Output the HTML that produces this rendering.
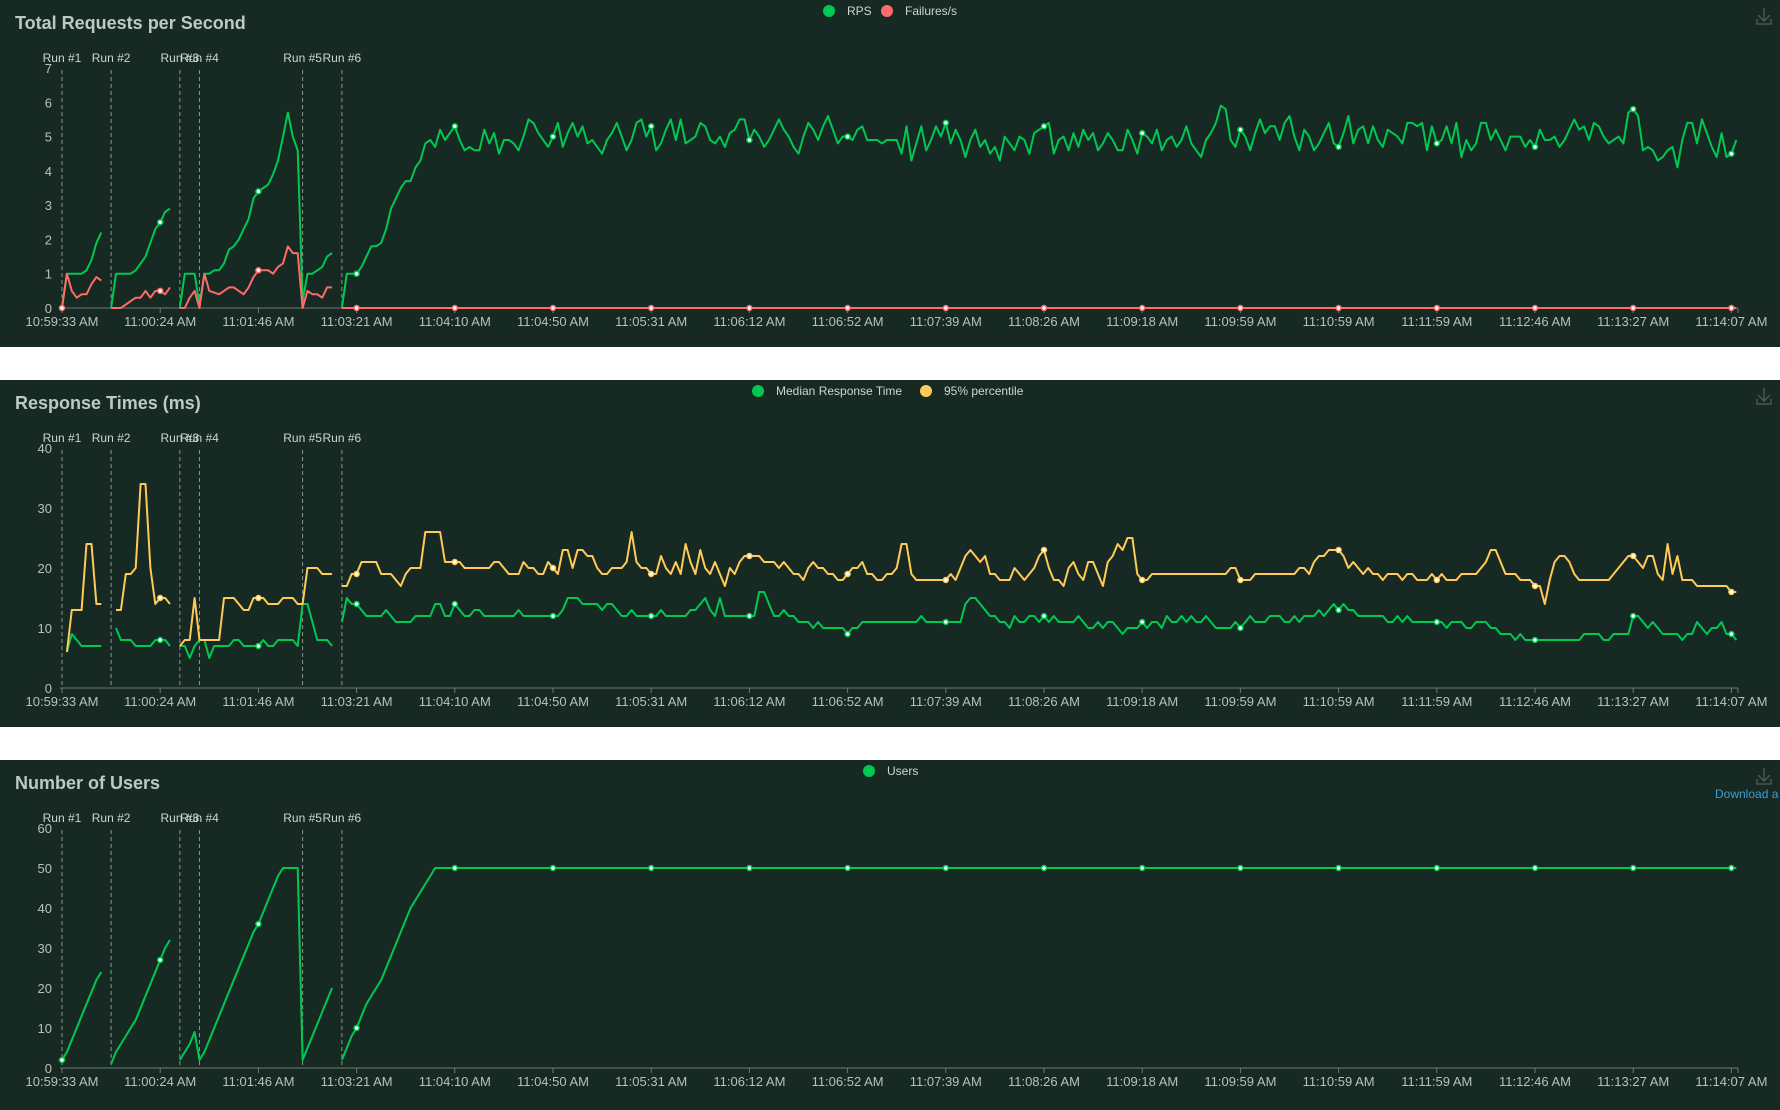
<!DOCTYPE html>
<html><head><meta charset="utf-8">
<style>
html,body{margin:0;padding:0;background:#fff;width:1780px;height:1110px;overflow:hidden}
.panel{position:absolute;left:0;width:1780px;background:#162922}
svg{display:block}
text{font-family:"Liberation Sans",sans-serif}
</style></head><body>
<div class="panel" style="top:0;height:347px"><svg id="c1" width="1780" height="347"></svg></div>
<div class="panel" style="top:380px;height:347px"><svg id="c2" width="1780" height="347"></svg></div>
<div class="panel" style="top:760px;height:350px"><svg id="c3" width="1780" height="350"></svg></div>
<script>
const tickLabels=["10:59:33 AM","11:00:24 AM","11:01:46 AM","11:03:21 AM","11:04:10 AM","11:04:50 AM","11:05:31 AM","11:06:12 AM","11:06:52 AM","11:07:39 AM","11:08:26 AM","11:09:18 AM","11:09:59 AM","11:10:59 AM","11:11:59 AM","11:12:46 AM","11:13:27 AM","11:14:07 AM"];
const runLabels=["Run #1","Run #2","Run #3","Run #4","Run #5","Run #6"];
const runStarts=[0,10,24,28,49,57];
const rps=[0,1,1,1,1,1.1,1.4,1.9,2.2,null,
0,1,1,1,1,1.1,1.3,1.5,1.9,2.3,2.5,2.8,2.9,null,
0,1,1,1,0.1,1,1,1.1,1.1,1.3,1.7,1.8,2.0,2.3,2.6,3.2,3.4,3.5,3.6,3.9,4.3,5.0,5.7,5.0,4.6,0.2,1,1,1.1,1.2,1.5,1.6,null,
0,1,1,1,1.2,1.5,1.8,1.8,1.9,2.3,2.9,3.2,3.5,3.7,3.7,4.1,4.3,4.8,4.9,4.7,5.2,
4.9,5.1,
5.3,4.9,4.6,4.7,4.6,4.6,5.2,4.8,5.1,4.5,4.9,4.9,4.8,4.6,5.0,5.5,5.4,5.1,4.9,4.7,
5.0,5.4,4.7,5.1,5.4,5.0,5.3,4.8,4.9,4.7,4.5,4.9,5.1,5.4,5.0,4.6,4.9,5.4,5.5,5.0,
5.3,4.6,4.8,5.2,5.5,4.9,5.5,4.8,4.9,5.0,5.4,5.3,4.9,4.8,5.0,4.7,5.1,5.2,5.5,5.5,
4.9,5.2,5.0,4.7,4.9,5.2,5.5,5.2,5.0,4.7,4.5,5.0,5.4,5.2,4.9,5.3,5.6,5.2,4.8,5.0,
5.0,4.9,5.2,5.3,4.9,4.9,4.9,4.8,4.9,4.9,4.9,4.5,5.3,4.3,4.8,5.3,4.6,4.9,5.3,5.0,
5.4,4.8,5.2,4.9,4.4,4.9,5.2,4.7,4.9,4.5,4.7,4.3,5.0,4.8,4.6,5.0,4.9,4.5,5.1,5.2,
5.3,5.4,4.5,4.9,5.0,4.6,5.1,4.7,5.2,4.9,5.1,4.6,4.8,5.1,4.9,4.6,4.6,5.2,4.9,4.5,
5.1,5.0,4.8,5.2,4.6,4.9,5.0,4.7,4.9,5.3,4.8,4.6,4.4,4.9,5.1,5.4,5.9,5.8,4.9,4.7,
5.2,5.0,4.6,5.1,5.5,5.1,5.3,5.3,4.9,5.4,5.6,5.0,4.6,5.2,5.0,4.6,4.8,5.1,5.4,4.8,
4.7,5.1,5.6,4.8,5.2,5.3,4.8,5.3,4.9,4.7,5.2,5.1,5.0,
4.8,5.4,5.4,5.3,5.4,4.6,5.3,4.8,4.9,5.3,4.8,5.4,4.4,4.9,4.6,4.8,5.4,5.4,4.9,5.2,
4.9,4.6,5.0,5.0,5.0,4.7,4.9,4.7,5.2,4.9,4.9,5.0,4.7,4.9,5.2,5.5,5.2,5.3,4.9,5.4,
5.3,5.0,4.8,4.9,5.0,4.8,5.7,5.8,5.6,4.6,4.7,4.6,4.3,4.4,4.6,4.7,4.1,4.9,5.4,5.4,
4.8,5.5,5.1,4.7,4.4,5.1,4.4,4.5,4.9];
const failures=[0,1,0.5,0.3,0.4,0.4,0.7,0.9,0.8,null,
0,0,0,0.1,0.2,0.3,0.3,0.5,0.3,0.5,0.5,0.4,0.6,null,
0,0,0.3,0.5,0,1.0,0.5,0.45,0.4,0.5,0.6,0.6,0.5,0.4,0.6,0.9,1.1,1.1,1.1,1.0,1.2,1.3,1.8,1.6,1.6,0,0.5,0.4,0.4,0.3,0.6,0.6,null,
0,0,0,0,0,0,0,0,0,0,0,0,0,0,0,0,0,0,0,0,0,0,0,
0,0,0,0,0,0,0,0,0,0,0,0,0,0,0,0,0,0,0,0,
0,0,0,0,0,0,0,0,0,0,0,0,0,0,0,0,0,0,0,0,
0,0,0,0,0,0,0,0,0,0,0,0,0,0,0,0,0,0,0,0,
0,0,0,0,0,0,0,0,0,0,0,0,0,0,0,0,0,0,0,0,
0,0,0,0,0,0,0,0,0,0,0,0,0,0,0,0,0,0,0,0,
0,0,0,0,0,0,0,0,0,0,0,0,0,0,0,0,0,0,0,0,
0,0,0,0,0,0,0,0,0,0,0,0,0,0,0,0,0,0,0,0,
0,0,0,0,0,0,0,0,0,0,0,0,0,0,0,0,0,0,0,0,
0,0,0,0,0,0,0,0,0,0,0,0,0,0,0,0,0,0,0,0,
0,0,0,0,0,0,0,0,0,0,0,0,0,0,0,0,0,0,0,0,
0,0,0,0,0,0,0,0,0,0,0,0,0,0,0,0,0,0,0,0,
0,0,0,0,0,0,0,0,0,0,0,0,0,0,0,0,0,0,0,0,
0,0,0,0,0,0,0,0,0,0,0,0,0,0,0,0,0,0,0,0,
0,0];
const median=[null,6,9,8,7,7,7,7,7,null,
null,10,8,8,8,7,7,7,7,8,8,8,7,null,
7,7,5,7,8,8,5,7,7,7,7,8,8,7,7,7,7,8,7,7,8,8,8,8,7,14,14,11,8,8,8,7,null,
11,15,14,14,13,12,12,12,12,13,12,11,11,11,11,12,12,12,12,14,14,
12,12,
14,13,12,12,13,13,12,12,12,12,12,12,12,13,12,12,12,12,12,12,
12,12,13,15,15,15,14,14,14,14,13,14,14,13,12,12,13,12,12,12,
12,12,13,12,12,12,12,12,13,13,14,15,13,12,15,12,12,12,12,12,
12,12,16,16,14,12,12,13,12,12,11,11,11,10,11,10,10,10,10,10,
9,10,10,11,11,11,11,11,11,11,11,11,11,11,11,12,11,11,11,11,
11,11,11,11,14,15,15,14,13,12,12,11,11,10,12,11,11,12,12,11,
12,11,12,11,11,11,11,12,11,10,10,11,10,11,11,10,9,10,10,10,
11,10,11,11,10,12,11,11,12,11,12,11,11,12,11,10,10,10,10,11,
10,11,12,11,11,11,12,12,12,11,11,12,11,12,12,12,13,12,13,14,
13,14,13,13,12,12,12,12,12,12,11,11,12,11,12,11,11,11,11,11,
11,11,10,11,11,11,10,10,11,11,11,10,10,9,9,9,8,9,8,8,
8,8,8,8,8,8,8,8,8,8,9,9,9,9,8,8,9,9,9,9,
12,12,11,10,11,10,9,9,9,9,8,9,9,11,10,9,10,10,11,9,
9,8];
const p95=[null,6,13,13,13,24,24,14,14,null,
null,13,13,19,19,20,34,34,20,14,15,15,14,null,
7,8,8,15,8,8,8,8,8,15,15,15,14,13,13,15,15,15,14,14,14,15,15,15,14,14,20,20,20,19,19,19,null,
17,17,19,19,21,21,21,21,19,19,19,18,17,19,20,20,20,26,26,26,26,
21,21,
21,21,20,20,20,20,20,20,21,21,20,19,19,19,21,20,20,19,19,21,
20,19,23,23,20,23,23,22,22,20,19,19,20,20,20,21,26,21,20,20,
19,19,22,20,19,21,19,24,21,19,23,20,19,21,19,17,20,19,21,22,
22,22,22,21,21,21,20,21,20,19,19,18,20,21,20,20,19,19,18,18,
19,20,20,21,19,19,18,18,19,19,20,24,24,19,18,18,18,18,18,18,
18,19,18,20,22,23,22,21,22,19,19,18,18,18,20,19,18,19,20,22,
23,20,18,18,17,20,21,19,18,21,21,19,17,21,22,24,23,25,25,19,
18,18,19,19,19,19,19,19,19,19,19,19,19,19,19,19,19,19,20,20,
18,18,18,19,19,19,19,19,19,19,19,19,20,20,19,21,22,22,23,23,
23,22,20,21,20,19,20,19,19,18,19,19,19,18,19,19,18,18,18,19,
18,19,18,18,18,19,19,19,19,20,21,23,23,21,19,19,19,18,18,18,
17,17,14,18,21,22,22,21,19,18,18,18,18,18,18,18,19,20,21,22,
22,21,20,22,22,19,18,24,19,22,18,18,18,17,17,17,17,17,17,17,
16,16];
const users=[2,4,7,10,13,16,19,22,24,null,
1,4,6,8,10,12,15,18,21,24,27,30,32,null,
2,4,6,9,2,4,7,10,13,16,19,22,25,28,31,34,36,39,42,45,48,50,50,50,50,2,5,8,11,14,17,20,null,
2,5,8,10,13,16,18,20,22,25,28,31,34,37,40,42,44,46,48,
50,50,50,50,50,50,
50,50,50,50,50,50,50,50,50,50,50,50,50,50,50,50,50,50,50,50,
50,50,50,50,50,50,50,50,50,50,50,50,50,50,50,50,50,50,50,50,
50,50,50,50,50,50,50,50,50,50,50,50,50,50,50,50,50,50,50,50,
50,50,50,50,50,50,50,50,50,50,50,50,50,50,50,50,50,50,50,50,
50,50,50,50,50,50,50,50,50,50,50,50,50,50,50,50,50,50,50,50,
50,50,50,50,50,50,50,50,50,50,50,50,50,50,50,50,50,50,50,50,
50,50,50,50,50,50,50,50,50,50,50,50,50,50,50,50,50,50,50,50,
50,50,50,50,50,50,50,50,50,50,50,50,50,50,50,50,50,50,50,50,
50,50,50,50,50,50,50,50,50,50,50,50,50,50,50,50,50,50,50,50,
50,50,50,50,50,50,50,50,50,50,50,50,50,50,50,50,50,50,50,50,
50,50,50,50,50,50,50,50,50,50,50,50,50,50,50,50,50,50,50,50,
50,50,50,50,50,50,50,50,50,50,50,50,50,50,50,50,50,50,50,50,
50,50,50,50,50,50,50,50,50,50,50,50,50,50,50,50,50,50,50,50];
const rpsTicks=[0,1,2,3,4,5,6,7];
const rtTicks=[0,10,20,30,40];
const userTicks=[0,10,20,30,40,50,60];

const NS="http://www.w3.org/2000/svg";
const X0=62, STEP=4.91, AXY=308, TOPY=68;
function xs(i){return X0+i*STEP;}
function mk(svg,tag,attrs){const e=document.createElementNS(NS,tag);for(const k in attrs)e.setAttribute(k,attrs[k]);svg.appendChild(e);return e;}
function drawChart(id,title,yMax,yTicks,series,legend,extra){
  const svg=document.getElementById(id);
  const ys=v=>AXY-(v/yMax)*(AXY-TOPY);
  const t=mk(svg,'text',{x:15,y:29,fill:'#bccac2','font-size':18,'font-weight':'bold'});t.textContent=title;
  
  
  legend.forEach(l=>{
    const c=mk(svg,'circle',{cx:l.x,cy:11,r:6,fill:l.color});
    
    
    const tx=mk(svg,'text',{x:l.x+18,y:15,fill:'#cfd6d2','font-size':12});tx.textContent=l.label;
    
    
  });
  const dl=mk(svg,'path',{d:'M1764 8 V20 M1758 15 L1764 21 L1770 15 M1757 19 V24 H1771 V19',stroke:'#55625b','stroke-width':1.2,fill:'none'});
  
  
  yTicks.forEach(v=>{
    const tx=mk(svg,'text',{x:52,y:ys(v)+5,fill:'#b8c0bb','font-size':13,'text-anchor':'end'});tx.textContent=v;
    
    
  });
  const ax=mk(svg,'line',{x1:60,y1:AXY,x2:1738,y2:AXY,stroke:'#6e7a74','stroke-width':1});
  
  
  mk(svg,'line',{x1:1738,y1:AXY,x2:1738,y2:AXY+5,stroke:'#6e7a74'});
  tickLabels.forEach((lab,k)=>{
    const x=xs(k*20);
    mk(svg,'line',{x1:x,y1:AXY,x2:x,y2:AXY+5,stroke:'#6e7a74'});
    const tx=mk(svg,'text',{x:x,y:AXY+18,fill:'#b8c0bb','font-size':13,'text-anchor':'middle'});tx.textContent=lab;
    
    
  });
  runStarts.forEach((s,k)=>{
    const x=xs(s);
    const ln=mk(svg,'line',{x1:x,y1:TOPY+2,x2:x,y2:AXY,stroke:'#8a948f','stroke-width':1,'stroke-dasharray':'4,3'});
    
    
    const tx=mk(svg,'text',{x:x,y:62,fill:'#cfd6d2','font-size':12,'text-anchor':'middle'});tx.textContent=runLabels[k];
    
    
  });
  series.forEach(s=>{
    let d='',pen=false;
    s.data.forEach((v,i)=>{
      if(v===null||v===undefined){pen=false;return;}
      d+=(pen?'L':'M')+xs(i).toFixed(1)+' '+ys(v).toFixed(1)+' ';pen=true;
    });
    const p=mk(svg,'path',{d:d,stroke:s.color,'stroke-width':2,fill:'none','stroke-linejoin':'round'});
    
    
    s.data.forEach((v,i)=>{
      if(i%20!==0||v===null)return;
      const c=mk(svg,'circle',{cx:xs(i),cy:ys(v),r:2.5,fill:'#ffffff',stroke:s.color,'stroke-width':1.5});
      
      
    });
  });
  if(extra)extra(svg);
}
drawChart('c1','Total Requests per Second',7,rpsTicks,
  [{data:rps,color:'#00c853',name:'rps'},{data:failures,color:'#ff6b6b',name:'failures'}],
  [{x:829,label:'RPS',color:'#00c853'},{x:887,label:'Failures/s',color:'#ff6b6b'}]);
drawChart('c2','Response Times (ms)',40,rtTicks,
  [{data:median,color:'#00c853',name:'median'},{data:p95,color:'#ffca57',name:'p95'}],
  [{x:758,label:'Median Response Time',color:'#00c853'},{x:926,label:'95% percentile',color:'#ffca57'}]);
drawChart('c3','Number of Users',60,userTicks,
  [{data:users,color:'#00c853',name:'users'}],
  [{x:869,label:'Users',color:'#00c853'}],
  function(svg){
    const tx=mk(svg,'text',{x:1715,y:38,fill:'#3ba0d8','font-size':12});tx.textContent='Download a';
    
    
  });
</script>
</body></html>
